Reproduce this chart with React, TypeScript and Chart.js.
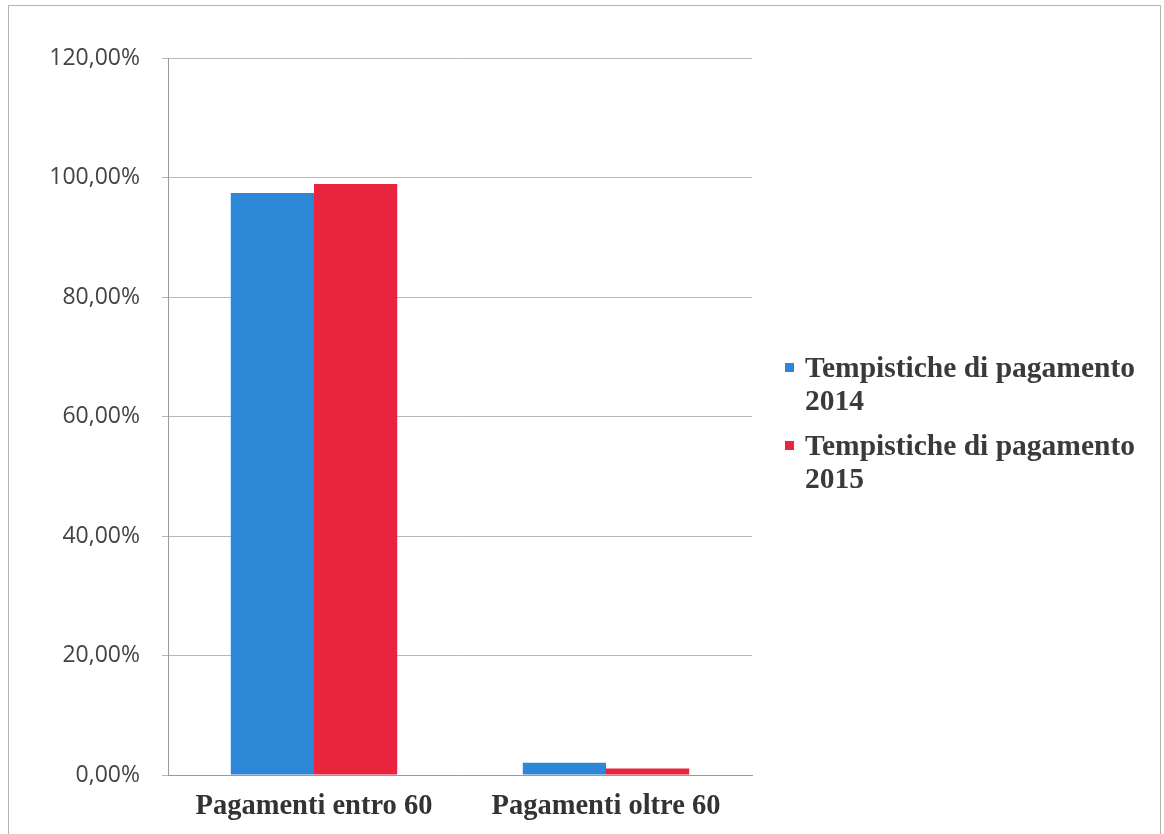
import React, { useEffect, useRef } from "react";
import { Chart, registerables } from "chart.js";

Chart.register(...registerables);

const categories = ["Pagamenti entro 60", "Pagamenti oltre 60"];
const series2014 = [97.4, 2.05];
const series2015 = [98.9, 1.1];
const seriesLabels = [
  ["Tempistiche di pagamento", "2014"],
  ["Tempistiche di pagamento", "2015"],
];
const seriesColors = ["#2c87d6", "#e9243f"];
const yTicks = [0, 20, 40, 60, 80, 100, 120];

const legendPlugin = {
  id: "customLegend",
  beforeDraw(chart: any) {
    const ctx = chart.ctx;
    ctx.save();
    ctx.fillStyle = "#ffffff";
    ctx.fillRect(0, 0, chart.width, chart.height);
    ctx.strokeStyle = "#b4b4b4";
    ctx.lineWidth = 1;
    ctx.strokeRect(8.5, 5.5, 1152, 900);
    ctx.restore();
  },
  afterDraw(chart: any) {
    const ctx = chart.ctx;
    const area = chart.chartArea;
    const markerX = area.right + 33;
    const textX = area.right + 53;
    const firstBaseline = 377;
    const lineGap = 33;
    const entryGap = 78;
    ctx.save();
    ctx.font = "bold 29.5px 'Liberation Serif'";
    ctx.textBaseline = "alphabetic";
    ctx.textAlign = "left";
    seriesLabels.forEach((lines, i) => {
      const base = firstBaseline + i * entryGap;
      ctx.fillStyle = seriesColors[i];
      ctx.fillRect(markerX, base - 14, 9, 9);
      ctx.fillStyle = "#3a3a3a";
      lines.forEach((line, j) => {
        ctx.fillText(line, textX, base + j * lineGap);
      });
    });
    ctx.restore();
  },
};

export default function App() {
  const ref = useRef<HTMLCanvasElement | null>(null);

  useEffect(() => {
    if (!ref.current) return;
    const chart = new Chart(ref.current, {
      type: "bar",
      data: {
        labels: categories,
        datasets: [
          {
            label: seriesLabels[0].join(" "),
            data: series2014,
            backgroundColor: seriesColors[0],
            categoryPercentage: 0.57,
            barPercentage: 1.0,
          },
          {
            label: seriesLabels[1].join(" "),
            data: series2015,
            backgroundColor: seriesColors[1],
            categoryPercentage: 0.57,
            barPercentage: 1.0,
          },
        ],
      },
      options: {
        animation: false,
        responsive: false,
        layout: { padding: { top: 58, right: 412, left: 0, bottom: 0 } },
        plugins: {
          legend: { display: false },
          tooltip: { enabled: false },
        },
        scales: {
          x: {
            grid: { display: false, drawTicks: false },
            border: { display: true, color: "#9a9a9a", width: 1 },
            ticks: {
              color: "#333333",
              padding: 15,
              font: { family: "'Liberation Serif'", size: 28.5, weight: "bold" },
            },
            afterFit: (scale: any) => {
              scale.height = 59;
            },
          },
          y: {
            min: 0,
            max: 120,
            afterBuildTicks: (scale: any) => {
              scale.ticks = yTicks.map((v) => ({ value: v }));
            },
            grid: { color: "#b8b8b8", lineWidth: 1, tickLength: 6 },
            border: { display: true, color: "#9a9a9a", width: 1 },
            ticks: {
              color: "#444444",
              padding: 22,
              font: { family: "'Open Sans'", size: 23 },
              callback: (v: any) => Number(v).toFixed(2).replace(".", ",") + "%",
            },
            afterFit: (scale: any) => {
              scale.width = 168;
            },
          },
        },
      },
      plugins: [legendPlugin],
    });
    return () => chart.destroy();
  }, []);

  return (
    <div style={{ position: "absolute", left: 0, top: 0, width: 1164, height: 834 }}>
      <canvas ref={ref} width={1164} height={834} style={{ display: "block" }} />
    </div>
  );
}
